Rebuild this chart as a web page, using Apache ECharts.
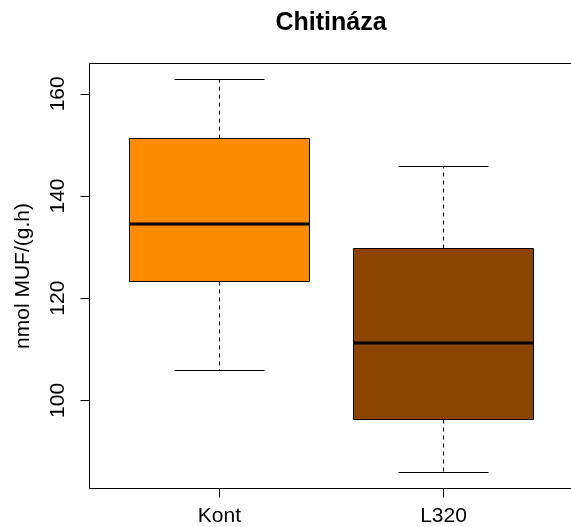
<!DOCTYPE html>
<html>
<head>
<meta charset="utf-8">
<title>Chitináza</title>
<script src="https://cdn.jsdelivr.net/npm/echarts@6/dist/echarts.min.js"></script>
<style>
  html, body { margin: 0; padding: 0; background: #fff; }
  #chart { width: 571px; height: 527px; }
</style>
</head>
<body>
<div id="chart"></div>
<script>
// Box-and-whisker summary for each group
const categories = ['Kont', 'L320'];
const whiskerLow = [105.9, 85.9];
const quartile1 = [123.3, 96.3];
const medians = [134.45, 111.2];
const quartile3 = [151.3, 129.8];
const whiskerHigh = [162.9, 145.7];
const yTicks = [100, 120, 140, 160];
const boxColors = ['#FF8C00', '#8B4500'];

const FONT = '"Liberation Sans", Arial, Helvetica, sans-serif';

const boxData = categories.map((c, i) => [
  i + 1, whiskerLow[i], quartile1[i], medians[i], quartile3[i], whiskerHigh[i]
]);

function crisp(v) { return Math.round(v - 0.5) + 0.5; }

function renderBox(params, api) {
  const x = api.value(0);
  const lo = api.coord([x, api.value(1)]);
  const q1 = api.coord([x, api.value(2)]);
  const md = api.coord([x, api.value(3)]);
  const q3 = api.coord([x, api.value(4)]);
  const hi = api.coord([x, api.value(5)]);
  const halfBox = api.size([0.4, 0])[0];
  const halfCap = api.size([0.2, 0])[0];
  const cx = crisp(lo[0]);
  const yLo = crisp(lo[1]), yQ1 = crisp(q1[1]), yQ3 = crisp(q3[1]), yHi = crisp(hi[1]);
  const yMd = Math.round(md[1]);
  const bl = crisp(lo[0] - halfBox), br = crisp(lo[0] + halfBox);
  const dash = { stroke: '#000', lineWidth: 1, lineDash: [4, 4] };
  const solid = { stroke: '#000', lineWidth: 1 };
  return {
    type: 'group',
    children: [
      { type: 'line', shape: { x1: cx, y1: yQ3, x2: cx, y2: yHi }, style: dash },
      { type: 'line', shape: { x1: cx, y1: yQ1, x2: cx, y2: yLo }, style: dash },
      { type: 'line', shape: { x1: crisp(lo[0] - halfCap), y1: yHi, x2: crisp(lo[0] + halfCap), y2: yHi }, style: solid },
      { type: 'line', shape: { x1: crisp(lo[0] - halfCap), y1: yLo, x2: crisp(lo[0] + halfCap), y2: yLo }, style: solid },
      { type: 'rect', shape: { x: bl, y: yQ3, width: br - bl, height: yQ1 - yQ3 },
        style: { fill: boxColors[params.dataIndex], stroke: '#000', lineWidth: 1 } },
      { type: 'line', shape: { x1: bl, y1: yMd, x2: br, y2: yMd }, style: { stroke: '#000', lineWidth: 3 } }
    ]
  };
}

const chart = echarts.init(document.getElementById('chart'), null, { renderer: 'canvas' });
chart.setOption({
  animation: false,
  backgroundColor: '#fff',
  title: {
    text: 'Chitináza',
    left: 331,
    top: 11,
    padding: 0,
    textAlign: 'center',
    textStyle: { fontFamily: FONT, fontSize: 25, fontWeight: 'bold', color: '#000' }
  },
  // plot frame runs slightly past the right edge of the canvas
  grid: {
    left: 89.5, top: 63.5, width: 484, bottom: 38.5,
    outerBoundsMode: 'none',
    show: true, borderColor: '#000', borderWidth: 1, backgroundColor: 'transparent'
  },
  xAxis: {
    type: 'value',
    min: 0.42,
    max: 2.58,
    axisLine: { show: false },
    splitLine: { show: false },
    axisTick: { show: true, length: 9, lineStyle: { color: '#000' }, customValues: [1, 2] },
    axisLabel: {
      customValues: [1, 2],
      margin: 17,
      color: '#000',
      fontFamily: FONT,
      fontSize: 21,
      formatter: v => categories[Math.round(v) - 1] || ''
    }
  },
  yAxis: {
    type: 'value',
    min: 82.75,
    max: 165.94,
    name: 'nmol MUF/(g.h)',
    nameLocation: 'middle',
    nameGap: 56,
    nameRotate: 90,
    nameTextStyle: { fontFamily: FONT, fontSize: 21, color: '#000' },
    axisLine: { show: false },
    splitLine: { show: false },
    axisTick: { show: true, length: 9, lineStyle: { color: '#000' }, customValues: yTicks },
    axisLabel: {
      customValues: yTicks,
      rotate: 90,
      margin: 21,
      color: '#000',
      fontFamily: FONT,
      fontSize: 21
    }
  },
  series: [{
    type: 'custom',
    renderItem: renderBox,
    data: boxData,
    encode: { x: 0, y: [1, 2, 3, 4, 5] },
    clip: false
  }]
});
</script>
</body>
</html>
